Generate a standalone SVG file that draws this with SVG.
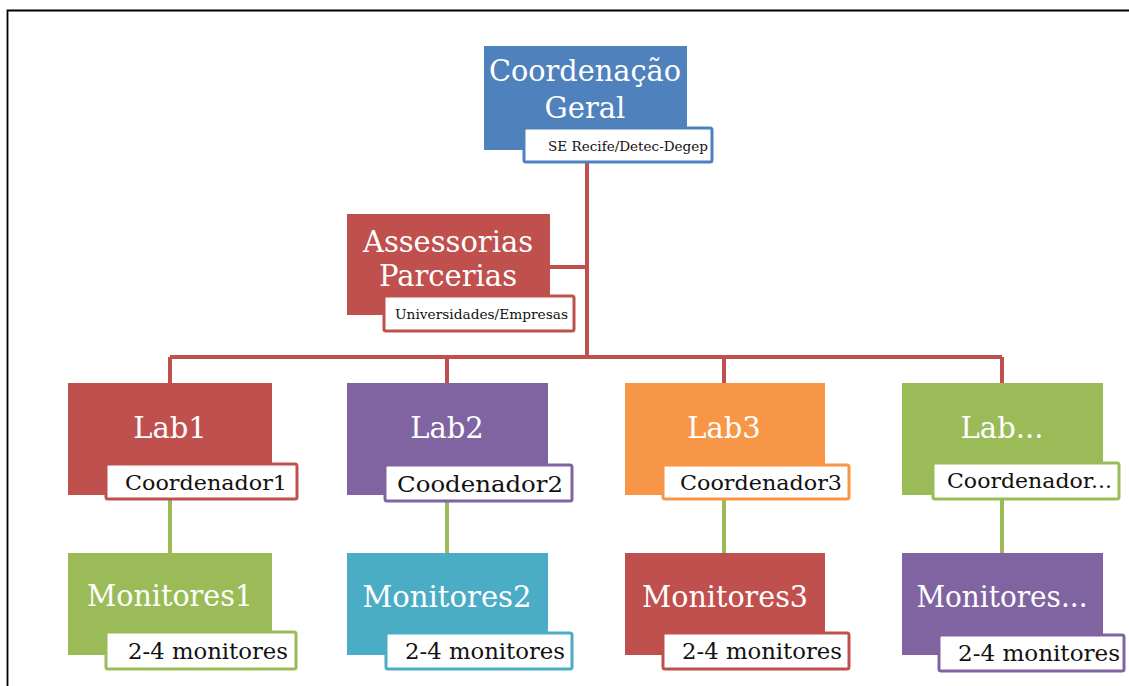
<svg xmlns="http://www.w3.org/2000/svg" width="1129" height="686" viewBox="0 0 1129 686">
<style>
.t{font-family:"DejaVu Serif","Liberation Serif",serif;fill:#ffffff;text-anchor:middle}
.s{font-family:"DejaVu Serif","Liberation Serif",serif;fill:#111111}
.sub{fill:#ffffff;stroke-width:3}
.red{stroke:#c0504d;stroke-width:4;fill:none}
.grn{stroke:#9bbb59;stroke-width:4;fill:none}
</style>
<rect x="0" y="0" width="1129" height="686" fill="#ffffff"/>
<path d="M7.5 686 V10.5 H1129" fill="none" stroke="#000" stroke-width="1.8"/>
<g id="connectors">
<path class="red" d="M587 163 V357 M550 267 H587 M170 357 H1002 M170 357 V383 M447 357 V383 M724 357 V383 M1002 357 V383"/>
<path class="grn" d="M170 500 V553 M447 502 V553 M724 500 V553 M1002 500 V553"/>
</g>
<g id="coord">
<rect x="484" y="46" width="203" height="104" fill="#4f81bd"/>
<rect class="sub" x="524" y="128" width="188" height="34" rx="2" stroke="#4f81bd"/>
<text class="t" x="585" y="81" font-size="29" textLength="192" lengthAdjust="spacingAndGlyphs">Coordenação</text>
<text class="t" x="585" y="118" font-size="29">Geral</text>
<text class="s" x="548" y="151" font-size="13.5" textLength="160" lengthAdjust="spacingAndGlyphs">SE Recife/Detec-Degep</text>
</g>
<g id="assessorias">
<rect x="347" y="214" width="203" height="101" fill="#c0504d"/>
<rect class="sub" x="384" y="296" width="190" height="35" rx="2" stroke="#c0504d"/>
<text class="t" x="448" y="252" font-size="29" textLength="170" lengthAdjust="spacingAndGlyphs">Assessorias</text>
<text class="t" x="448" y="286" font-size="29">Parcerias</text>
<text class="s" x="395" y="319" font-size="13.5" textLength="173" lengthAdjust="spacingAndGlyphs">Universidades/Empresas</text>
</g>
<g id="lab1">
<rect x="68" y="383" width="204" height="112" fill="#c0504d"/>
<rect class="sub" x="106" y="464" width="191" height="35" rx="2" stroke="#c0504d"/>
<text class="t" x="170" y="438" font-size="29">Lab1</text>
<text class="s" x="125" y="490" font-size="21" textLength="162" lengthAdjust="spacingAndGlyphs">Coordenador1</text>
</g>
<g id="lab2">
<rect x="347" y="383" width="201" height="112" fill="#8064a2"/>
<rect class="sub" x="385" y="465" width="187" height="36" rx="2" stroke="#8064a2"/>
<text class="t" x="447" y="438" font-size="29">Lab2</text>
<text class="s" x="397" y="492" font-size="22" textLength="166" lengthAdjust="spacingAndGlyphs">Coodenador2</text>
</g>
<g id="lab3">
<rect x="625" y="383" width="200" height="112" fill="#f79646"/>
<rect class="sub" x="663" y="465" width="186" height="34" rx="2" stroke="#f79646"/>
<text class="t" x="724" y="438" font-size="29">Lab3</text>
<text class="s" x="680" y="490" font-size="21" textLength="162" lengthAdjust="spacingAndGlyphs">Coordenador3</text>
</g>
<g id="lab4">
<rect x="902" y="383" width="201" height="112" fill="#9bbb59"/>
<rect class="sub" x="933" y="463" width="186" height="36" rx="2" stroke="#9bbb59"/>
<text class="t" x="1002" y="438" font-size="29">Lab...</text>
<text class="s" x="947" y="488" font-size="21" textLength="165" lengthAdjust="spacingAndGlyphs">Coordenador...</text>
</g>
<g id="mon1">
<rect x="68" y="553" width="204" height="102" fill="#9bbb59"/>
<rect class="sub" x="106" y="632" width="190" height="37" rx="2" stroke="#9bbb59"/>
<text class="t" x="170" y="606" font-size="29" textLength="166" lengthAdjust="spacingAndGlyphs">Monitores1</text>
<text class="s" x="128" y="659" font-size="22" textLength="160" lengthAdjust="spacingAndGlyphs">2-4 monitores</text>
</g>
<g id="mon2">
<rect x="347" y="553" width="201" height="102" fill="#4bacc6"/>
<rect class="sub" x="386" y="633" width="186" height="36" rx="2" stroke="#4bacc6"/>
<text class="t" x="447" y="607" font-size="29" textLength="169" lengthAdjust="spacingAndGlyphs">Monitores2</text>
<text class="s" x="405" y="659" font-size="22" textLength="160" lengthAdjust="spacingAndGlyphs">2-4 monitores</text>
</g>
<g id="mon3">
<rect x="625" y="553" width="200" height="102" fill="#c0504d"/>
<rect class="sub" x="663" y="633" width="186" height="36" rx="2" stroke="#c0504d"/>
<text class="t" x="725" y="607" font-size="29" textLength="166" lengthAdjust="spacingAndGlyphs">Monitores3</text>
<text class="s" x="682" y="659" font-size="22" textLength="160" lengthAdjust="spacingAndGlyphs">2-4 monitores</text>
</g>
<g id="mon4">
<rect x="902" y="553" width="201" height="102" fill="#8064a2"/>
<rect class="sub" x="939" y="635" width="185" height="36" rx="2" stroke="#8064a2"/>
<text class="t" x="1002" y="607" font-size="29" textLength="171" lengthAdjust="spacingAndGlyphs">Monitores...</text>
<text class="s" x="958" y="661" font-size="22" textLength="162" lengthAdjust="spacingAndGlyphs">2-4 monitores</text>
</g>
</svg>
